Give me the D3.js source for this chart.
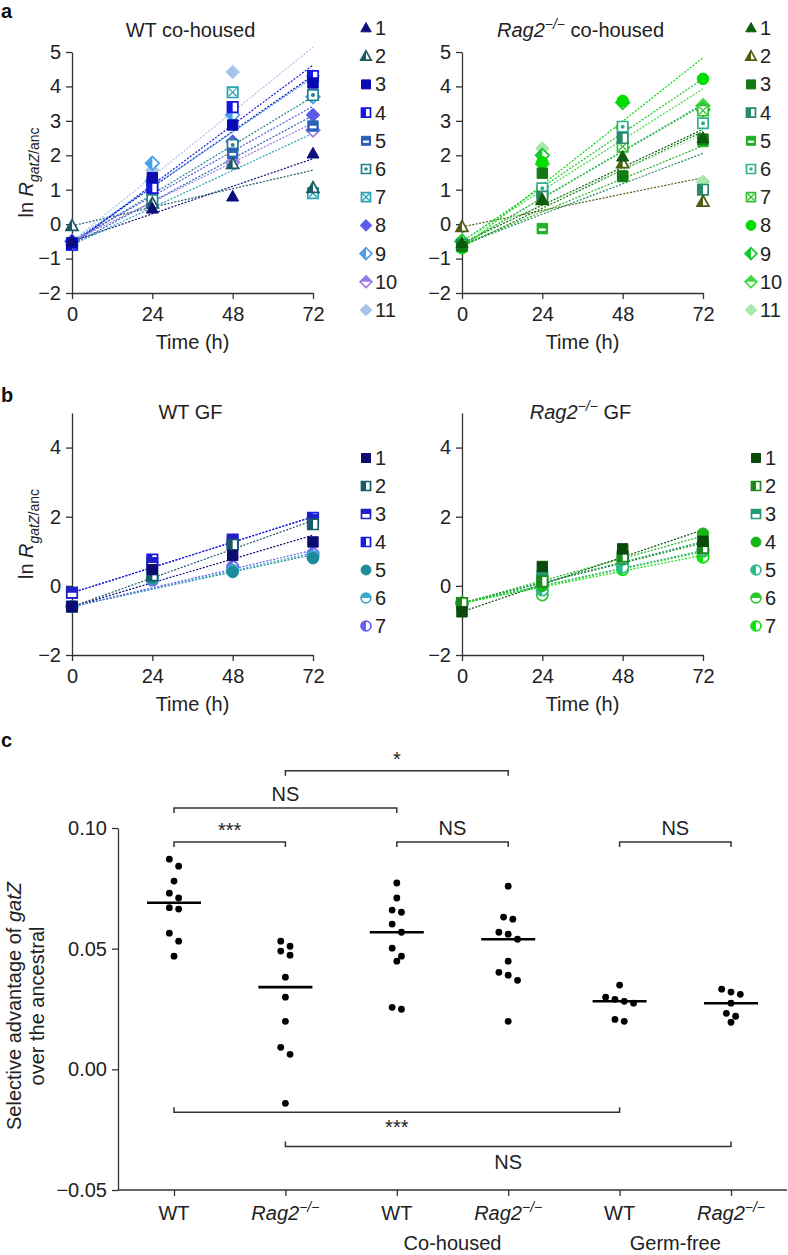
<!DOCTYPE html>
<html><head><meta charset="utf-8">
<script src="https://cdn.jsdelivr.net/npm/d3@7"></script>
<style>
body{margin:0;background:#fff;}
svg{font-family:"Liberation Sans",Arial,Helvetica,sans-serif;}
</style></head><body>
<svg id="chart" width="788" height="1255"></svg>
<script>
// ---------------- DATA ----------------
const timePoints = [0, 24, 48, 72];
const yTicksA = [-2, -1, 0, 1, 2, 3, 4, 5];
const yTicksB = [-2, 0, 2, 4];
const coLabels = ["1","2","3","4","5","6","7","8","9","10","11"];
const gfLabels = ["1","2","3","4","5","6","7"];

// ln R_gatZ/anc at 0, 24, 48, 72 h
const wtCoValues = [
  [-0.50, 0.45, 0.80, 2.05],
  [-0.05, 0.60, 1.75, 1.05],
  [-0.55, 1.35, 2.88, 4.10],
  [-0.60, 1.05, 3.40, 4.30],
  [-0.60, 1.25, 2.06, 2.85],
  [-0.55, 0.70, 2.30, 3.75],
  [-0.60, 1.15, 3.83, 0.90],
  [-0.50, 1.00, 2.40, 3.17],
  [-0.50, 1.77, 3.17, 3.70],
  [-0.50, 1.25, 1.80, 2.73],
  [-0.50, 1.57, 4.42, 4.30]
];
const rag2CoValues = [
  [-0.55, 0.70, 1.96, 2.50],
  [-0.08, 0.70, 1.77, 0.65],
  [-0.65, 1.48, 1.40, 2.47],
  [-0.60, 0.80, 2.50, 1.00],
  [-0.60, -0.13, 1.38, 2.40],
  [-0.60, 1.04, 2.83, 2.93],
  [-0.60, 0.94, 2.25, 3.30],
  [-0.70, 1.80, 3.58, 4.22],
  [-0.50, 2.00, 3.53, 3.32],
  [-0.50, 1.75, 2.80, 3.44],
  [-0.45, 2.20, 2.80, 1.23]
];
const wtGFValues = [
  [-0.60, 0.47, 0.88, 1.27],
  [-0.60, 0.30, 1.19, 1.78],
  [-0.20, 0.66, 1.34, 1.90],
  [-0.20, 0.76, 1.20, 1.97],
  [-0.60, 0.22, 0.40, 0.80],
  [-0.60, 0.20, 0.45, 0.85],
  [-0.60, 0.17, 0.54, 0.92]
];
const rag2GFValues = [
  [-0.75, 0.56, 1.07, 1.29],
  [-0.50, 0.13, 0.85, 1.10],
  [-0.50, 0.27, 0.80, 1.15],
  [-0.50, 0.00, 0.76, 1.51],
  [-0.50, -0.12, 0.54, 1.05],
  [-0.50, -0.26, 0.60, 1.00],
  [-0.50, 0.05, 0.47, 0.83]
];

// Panel c: selective advantage
const groupLabels = ["WT", "Rag2", "WT", "Rag2", "WT", "Rag2"];
const groupItalic = [false, true, false, true, false, true];
const conditionLabels = ["Co-housed", "Germ-free"];
const conditionGroups = [[2, 3], [4, 5]];
const selAdvantage = [
  [0.0871, 0.0842, 0.0780, 0.0730, 0.0710, 0.0670, 0.0664, 0.0564, 0.0531, 0.0469],
  [0.0531, 0.0510, 0.0490, 0.0473, 0.0382, 0.0299, 0.0199, 0.0091, 0.0062, -0.0141],
  [0.0772, 0.0710, 0.0660, 0.0651, 0.0602, 0.0568, 0.0502, 0.0469, 0.0448, 0.0257, 0.0249],
  [0.0759, 0.0631, 0.0622, 0.0568, 0.0560, 0.0539, 0.0448, 0.0402, 0.0390, 0.0369, 0.0199],
  [0.0349, 0.0299, 0.0290, 0.0282, 0.0274, 0.0207, 0.0199],
  [0.0332, 0.0320, 0.0311, 0.0274, 0.0232, 0.0220, 0.0195]
];
const cTicks = [-0.05, 0.00, 0.05, 0.10];
const compFrom  = [1, 0, 0, 2, 4, 0, 1];
const compTo    = [3, 2, 1, 3, 5, 4, 5];
const compLevel = [0.1237, 0.1083, 0.0942, 0.0942, 0.0942, -0.0178, -0.0320];
const compLabel = ["*", "NS", "***", "NS", "NS", "***", "NS"];
const compBelow = [false, false, false, false, false, true, true];

// ---------------- STYLES ----------------
const wtCoColors = ["#0d0d7c","#1d5a66","#0a0ab4","#1616e0","#2a62b8","#1f808e","#2aa2b2","#5a5ae6","#4aa0e8","#9a7ae8","#a8c4ec"];
const wtCoMarkers = [["triangle","full"],["triangle","left"],["square","full"],["square","left"],["square","bar"],["square","dot"],["square","cross"],["diamond","full"],["diamond","left"],["diamond","top"],["diamond","full"]];
const rag2CoColors = ["#0b5c0b","#4b5e12","#137a13","#2a8a6a","#22b022","#30b090","#30c030","#00dd00","#18c830","#40d840","#a8e8a8"];
const rag2CoMarkers = wtCoMarkers.map((m,i)=> i===7 ? ["circle","full"] : m);
const wtGFColors = ["#0c0c70","#1a5a66","#2020c8","#1a1ae6","#1a8c9a","#40a8c8","#6a5ef0"];
const wtGFMarkers = [["square","full"],["square","left"],["square","top"],["square","left"],["circle","full"],["circle","top"],["circle","left"]];
const rag2GFColors = ["#0a4a0a","#1a8a1a","#209a70","#18b418","#30b890","#30c830","#10e010"];
const rag2GFMarkers = [["square","full"],["square","left"],["square","top"],["circle","full"],["circle","left"],["circle","top"],["circle","left"]];

// ---------------- DRAW ----------------
const svg = d3.select("#chart");
const defs = svg.append("defs");
defs.append("clipPath").attr("id","clip-left").append("rect").attr("x",-20).attr("y",-20).attr("width",20).attr("height",40);
defs.append("clipPath").attr("id","clip-top").append("rect").attr("x",-20).attr("y",-20).attr("width",40).attr("height",20);
const AX = "#333", FS = 20;

function rich(sel, parts){
  let cur = 0;
  parts.forEach(p=>{
    const target = p.sup ? -8 : p.sub ? 6 : 0;
    const ts = sel.append("tspan").text(p.t).attr("dy", target - cur);
    cur = target;
    if (p.italic) ts.attr("font-style","italic");
    if (p.sup || p.sub) ts.attr("font-size", p.size || 14);
  });
}

function shapePath(shape, s){
  switch(shape){
    case "square": return `M${-s},${-s}H${s}V${s}H${-s}Z`;
    case "triangle": return `M0,${-s*1.2}L${s*1.15},${s*0.85}L${-s*1.15},${s*0.85}Z`;
    case "diamond": { const d = s*1.3; return `M0,${-d}L${d},0L0,${d}L${-d},0Z`; }
    case "circle": { const r = s*1.1; return `M${r},0A${r},${r} 0 1,1 ${-r},0A${r},${r} 0 1,1 ${r},0Z`; }
  }
}
function drawMarker(g, shape, fill, color, s){
  const p = shapePath(shape, s);
  if (fill === "full"){
    g.append("path").attr("d",p).attr("fill",color).attr("stroke",color).attr("stroke-width",1);
    return;
  }
  if (fill === "bar"){
    g.append("path").attr("d",p).attr("fill",color).attr("stroke",color).attr("stroke-width",1);
    g.append("rect").attr("x",-s*0.65).attr("y",-s*0.05).attr("width",s*1.3).attr("height",s*0.5).attr("fill","#fff");
    return;
  }
  g.append("path").attr("d",p).attr("fill","#fff").attr("stroke",color).attr("stroke-width",1.7);
  if (fill === "left" || fill === "top")
    g.append("path").attr("d",p).attr("fill",color).attr("clip-path",`url(#clip-${fill})`);
  if (fill === "dot") g.append("circle").attr("r",s*0.38).attr("fill",color);
  if (fill === "cross")
    g.append("path").attr("d",`M${-s*.75},${-s*.75}L${s*.75},${s*.75}M${s*.75},${-s*.75}L${-s*.75},${s*.75}`)
      .attr("stroke",color).attr("stroke-width",1.3);
}

// least-squares line anchored at the t=0 measurement
function fit(xs, ys){
  let num = 0, den = 0;
  xs.forEach((x,i)=>{ num += (x-xs[0])*(ys[i]-ys[0]); den += (x-xs[0])*(x-xs[0]); });
  return {a: ys[0], b: num/den};
}

function styleAxis(a, fs){
  a.attr("font-size",fs).attr("font-family",null);
  a.selectAll("path,line").attr("stroke",AX).attr("stroke-width",1.3);
  a.selectAll("text").attr("fill","#222");
}

function linePanel(o){
  const x = d3.scaleLinear().domain([0,72]).range(o.xr);
  const y = d3.scaleLinear().domain([-2,5]).range(o.yr);
  const g = svg.append("g");
  const ya = g.append("g").attr("transform",`translate(${o.xr[0]},0)`)
    .call(d3.axisLeft(y).tickValues(o.yTicks).tickSize(6).tickPadding(5).tickSizeOuter(0).tickFormat(d3.format("d")));
  const xa = g.append("g").attr("transform",`translate(0,${o.yr[0]})`)
    .call(d3.axisBottom(x).tickValues(timePoints).tickSize(6).tickPadding(8).tickSizeOuter(0));
  styleAxis(ya, FS); styleAxis(xa, FS);
  g.append("text").attr("x",(o.xr[0]+o.xr[1])/2).attr("y",o.yr[0]+56).attr("text-anchor","middle")
    .attr("font-size",FS).attr("fill","#222").text("Time (h)");
  rich(g.append("text").attr("x",(o.xr[0]+o.xr[1])/2 - 2).attr("y",o.titleY).attr("text-anchor","middle")
    .attr("font-size",FS).attr("fill","#222"), o.title);
  if (o.yLabel){
    const t = g.append("text").attr("transform",`translate(33,${(o.yr[0]+o.yr[1])/2}) rotate(-90)`)
      .attr("text-anchor","middle").attr("font-size",FS).attr("fill","#222");
    rich(t, [{t:"ln "},{t:"R",italic:true},{t:"gatZ",italic:true,sub:true},{t:"/anc",sub:true}]);
  }
  o.values.forEach((vals,i)=>{
    const f = fit(timePoints, vals);
    g.append("line").attr("x1",x(0)).attr("y1",y(f.a)).attr("x2",x(72)).attr("y2",y(f.a+f.b*72))
      .attr("stroke",o.colors[i]).attr("stroke-width",1.2).attr("stroke-dasharray","2,1.5");
  });
  o.values.slice().reverse().forEach((vals,ri)=>{
    const i = o.values.length-1-ri;
    vals.forEach((v,j)=>{
      const mg = g.append("g").attr("transform",`translate(${x(timePoints[j])},${y(v)})`);
      drawMarker(mg, o.markers[i][0], o.markers[i][1], o.colors[i], 5.2);
    });
  });
  o.labels.forEach((lab,i)=>{
    const ly = o.legendY + i*o.legendStep;
    const mg = g.append("g").attr("transform",`translate(${o.legendX},${ly})`);
    drawMarker(mg, o.markers[i][0], o.markers[i][1], o.colors[i], 4.5);
    g.append("text").attr("x",o.legendX+9).attr("y",ly+7).attr("font-size",FS).attr("fill","#222").text(lab);
  });
}

const rag2Title = t => [{t:"Rag2",italic:true},{t:"−/−",sup:true,italic:true,size:14},{t:t}];

linePanel({values:wtCoValues, colors:wtCoColors, markers:wtCoMarkers, labels:coLabels,
  xr:[72,313], yr:[293,52], yTicks:yTicksA, title:[{t:"WT co-housed"}], titleY:37, yLabel:true,
  legendX:366, legendY:28, legendStep:28.2});
linePanel({values:rag2CoValues, colors:rag2CoColors, markers:rag2CoMarkers, labels:coLabels,
  xr:[462,703], yr:[293,52], yTicks:yTicksA, title:rag2Title(" co-housed"), titleY:37, yLabel:false,
  legendX:751, legendY:28, legendStep:28.2});
linePanel({values:wtGFValues, colors:wtGFColors, markers:wtGFMarkers, labels:gfLabels,
  xr:[72,313], yr:[655,413], yTicks:yTicksB, title:[{t:"WT GF"}], titleY:419, yLabel:true,
  legendX:366, legendY:458, legendStep:28});
linePanel({values:rag2GFValues, colors:rag2GFColors, markers:rag2GFMarkers, labels:gfLabels,
  xr:[462,703], yr:[655,413], yTicks:yTicksB, title:rag2Title(" GF"), titleY:419, yLabel:false,
  legendX:756, legendY:458, legendStep:28});

[["a",18],["b",402],["c",747]].forEach(([l,yy])=>{
  svg.append("text").attr("x",1).attr("y",yy).attr("font-size",20).attr("font-weight","bold").attr("fill","#111").text(l);
});

// ---------------- PANEL C ----------------
(function(){
  const g = svg.append("g");
  const x = d3.scalePoint().domain(d3.range(groupLabels.length)).range([174,731]);
  const y = d3.scaleLinear().domain([-0.05,0.10]).range([1190,828]);
  const axX0 = 118, axX1 = 787;
  const ya = g.append("g").attr("transform",`translate(${axX0},0)`)
    .call(d3.axisLeft(y).tickValues(cTicks).tickSize(6).tickPadding(5).tickSizeOuter(0).tickFormat(d3.format(".2f")));
  styleAxis(ya, FS);
  g.append("line").attr("x1",axX0).attr("x2",axX1).attr("y1",y(-0.05)).attr("y2",y(-0.05)).attr("stroke",AX).attr("stroke-width",1.3);
  const xa = g.append("g").attr("transform",`translate(0,${y(-0.05)})`)
    .call(d3.axisBottom(x).tickSize(6).tickSizeOuter(0).tickFormat(""));
  xa.select(".domain").remove();
  xa.selectAll("line").attr("stroke",AX).attr("stroke-width",1.3);
  groupLabels.forEach((lab,i)=>{
    const t = g.append("text").attr("x",x(i)).attr("y",y(-0.05)+30).attr("text-anchor","middle")
      .attr("font-size",FS).attr("fill","#222");
    if (groupItalic[i]) rich(t, [{t:lab,italic:true},{t:"−/−",sup:true,italic:true,size:14}]);
    else t.text(lab);
  });
  conditionLabels.forEach((lab,k)=>{
    const [a,b] = conditionGroups[k];
    g.append("text").attr("x",(x(a)+x(b))/2).attr("y",y(-0.05)+60).attr("text-anchor","middle")
      .attr("font-size",FS).attr("fill","#222").text(lab);
  });
  const yl = g.append("g").attr("transform",`translate(0,1006) rotate(-90)`);
  rich(yl.append("text").attr("x",0).attr("y",21).attr("text-anchor","middle").attr("font-size",FS).attr("fill","#222"),
    [{t:"Selective advantage of "},{t:"gatZ",italic:true}]);
  yl.append("text").attr("x",0).attr("y",44).attr("text-anchor","middle").attr("font-size",FS).attr("fill","#222").text("over the ancestral");

  // dots: points grouped into rows of similar value and spread horizontally
  const rowTol = 8.5, spread = 9.3;
  selAdvantage.forEach((vals,i)=>{
    const pts = vals.map(v=>({v, py:y(v)})).sort((a,b)=>a.py-b.py);
    const rows = [];
    pts.forEach(p=>{
      const last = rows[rows.length-1];
      if (last && p.py - last[0].py < rowTol) last.push(p); else rows.push([p]);
    });
    rows.forEach(r=>r.forEach((p,k)=>{ p.dx = (k-(r.length-1)/2)*spread; }));
    g.selectAll(null).data(pts).enter().append("circle")
      .attr("cx",d=>x(i)+d.dx).attr("cy",d=>d.py).attr("r",3.4).attr("fill","#000");
    const med = d3.median(vals);
    g.append("line").attr("x1",x(i)-27).attr("x2",x(i)+27).attr("y1",y(med)).attr("y2",y(med))
      .attr("stroke","#000").attr("stroke-width",2.6);
  });

  compFrom.forEach((a,k)=>{
    const b = compTo[k], yy = y(compLevel[k]), dir = compBelow[k] ? -5 : 5;
    g.append("path").attr("d",`M${x(a)},${yy+dir}V${yy}H${x(b)}V${yy+dir}`)
      .attr("fill","none").attr("stroke",AX).attr("stroke-width",1.5);
    const isStar = compLabel[k].indexOf("*")>=0;
    const ty = compBelow[k] ? yy+22 : (isStar ? yy-5 : yy-7);
    g.append("text").attr("x",(x(a)+x(b))/2).attr("y",ty).attr("text-anchor","middle")
      .attr("font-size",FS).attr("fill","#222").text(compLabel[k]);
  });
})();
</script>
</body></html>
